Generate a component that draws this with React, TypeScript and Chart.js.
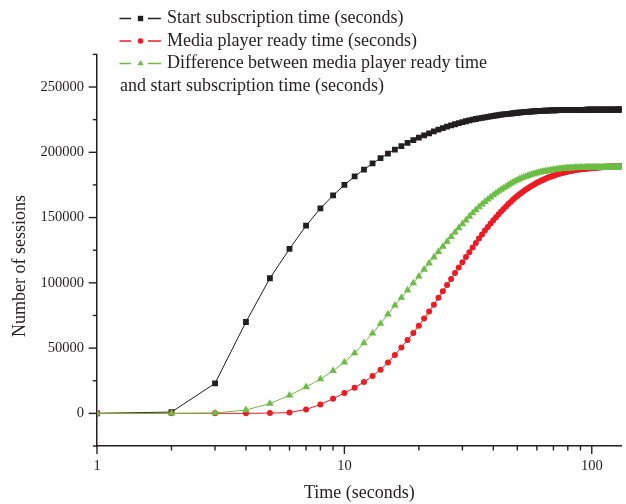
import React, { useEffect, useRef } from 'react';
import { Chart, registerables } from 'chart.js';

Chart.register(...registerables);

// ---- data ----
const seconds = [
  1, 2, 3, 4, 5, 6, 7, 8, 9, 10,
  11, 12, 13, 14, 15, 16, 17, 18, 19, 20,
  21, 22, 23, 24, 25, 26, 27, 28, 29, 30,
  31, 32, 33, 34, 35, 36, 37, 38, 39, 40,
  41, 42, 43, 44, 45, 46, 47, 48, 49, 50,
  51, 52, 53, 54, 55, 56, 57, 58, 59, 60,
  61, 62, 63, 64, 65, 66, 67, 68, 69, 70,
  71, 72, 73, 74, 75, 76, 77, 78, 79, 80,
  81, 82, 83, 84, 85, 86, 87, 88, 89, 90,
  91, 92, 93, 94, 95, 96, 97, 98, 99, 100,
  101, 102, 103, 104, 105, 106, 107, 108, 109, 110,
  111, 112, 113, 114, 115, 116, 117, 118, 119, 120,
  121, 122, 123, 124, 125, 126, 127, 128, 129, 130,
  131, 132,
];

const startSubscription = [
  0, 1000, 23000, 70000, 103500, 126000, 143800, 157000, 167000, 175000,
  181500, 186800, 191500, 195500, 199000, 202000, 204800, 207200, 209400, 211300,
  213000, 214500, 216000, 217300, 218500, 219600, 220600, 221500, 222400, 223100,
  223800, 224400, 225000, 225500, 226000, 226400, 226800, 227200, 227500, 227900,
  228200, 228500, 228800, 229000, 229300, 229500, 229700, 229900, 230100, 230300,
  230450, 230600, 230750, 230900, 231000, 231150, 231250, 231350, 231450, 231550,
  231650, 231700, 231800, 231850, 231900, 231950, 232000, 232050, 232100, 232150,
  232180, 232210, 232240, 232270, 232300, 232320, 232340, 232360, 232380, 232400,
  232420, 232440, 232450, 232460, 232480, 232490, 232500, 232510, 232520, 232530,
  232540, 232550, 232560, 232570, 232580, 232590, 232600, 232600, 232610, 232620,
  232620, 232630, 232640, 232640, 232650, 232660, 232660, 232670, 232680, 232680,
  232690, 232690, 232700, 232700, 232710, 232710, 232720, 232720, 232730, 232730,
  232740, 232740, 232750, 232750, 232750, 232760, 232760, 232770, 232770, 232780,
  232780, 232790,
];

const mediaPlayerReady = [
  0, 0, 0, 0, 200, 600, 3000, 6800, 11200, 15600,
  19700, 24000, 28600, 33500, 39000, 44800, 50500, 56200, 61600, 67200,
  72600, 78000, 83300, 88500, 93600, 98400, 103000, 107500, 111800, 115800,
  119700, 123500, 127100, 130600, 133900, 137000, 140000, 142800, 145500, 148000,
  150300, 152500, 154600, 156500, 158500, 160300, 162000, 163600, 165100, 166500,
  167800, 169000, 170200, 171300, 172300, 173300, 174200, 175000, 175800, 176600,
  177300, 178000, 178600, 179200, 179800, 180300, 180800, 181300, 181700, 182100,
  182500, 182900, 183300, 183600, 183900, 184200, 184500, 184750, 185000, 185250,
  185500, 185700, 185900, 186100, 186300, 186450, 186600, 186750, 186900, 187000,
  187100, 187200, 187300, 187380, 187460, 187540, 187620, 187700, 187780, 187860,
  187940, 188020, 188100, 188180, 188260, 188340, 188420, 188490, 188560, 188620,
  188680, 188740, 188790, 188840, 188880, 188920, 188960, 189000, 189030, 189060,
  189090, 189120, 189140, 189160, 189180, 189200, 189220, 189240, 189250, 189260,
  189270, 189280,
];

const difference = [
  0, 0, 300, 2600, 7500, 13800, 20200, 26300, 32600, 39200,
  46200, 53900, 61300, 68800, 75900, 82700, 88700, 94300, 99800, 105000,
  110200, 115000, 119600, 123800, 127800, 131600, 135200, 138700, 142000, 145100,
  148000, 150800, 153400, 155800, 158100, 160200, 162100, 163900, 165600, 167200,
  168700, 170100, 171400, 172600, 173700, 174900, 176000, 177000, 177900, 178700,
  179500, 180200, 180800, 181400, 181900, 182400, 182900, 183300, 183700, 184100,
  184400, 184700, 185000, 185300, 185500, 185700, 185900, 186100, 186300, 186500,
  186700, 186850, 187000, 187150, 187300, 187400, 187500, 187600, 187700, 187800,
  187850, 187900, 187950, 188000, 188050, 188100, 188150, 188200, 188230, 188260,
  188290, 188310, 188330, 188350, 188370, 188390, 188400, 188410, 188420, 188430,
  188440, 188450, 188460, 188470, 188480, 188490, 188500, 188500, 188510, 188510,
  188520, 188520, 188530, 188530, 188540, 188540, 188550, 188550, 188560, 188560,
  188570, 188570, 188580, 188580, 188590, 188590, 188600, 188600, 188600, 188610,
  188610, 188620,
];

const seriesNames = [
  'Start subscription time (seconds)',
  'Media player ready time (seconds)',
  'Difference between media player ready time',
];
const legendContinuation = 'and start subscription time (seconds)';

const xTickValues = [1, 2, 3, 4, 5, 6, 7, 8, 9, 10, 20, 30, 40, 50, 60, 70, 80, 90, 100];
const xTickLabels = [1, 10, 100];
const yTickValues = [-25000, 0, 25000, 50000, 75000, 100000, 125000, 150000, 175000, 200000, 225000, 250000, 275000];
const yTickLabels = [0, 50000, 100000, 150000, 200000, 250000];

const xTitle = 'Time (seconds)';
const yTitle = 'Number of sessions';

// ---- styles ----
const FONT = '"Liberation Serif", "Times New Roman", serif';
const INK = '#231f20';
const BLACK = '#231f20';
const RED = '#ed1c24';
const GREEN = '#6cbd45';

function drawMarker(ctx: CanvasRenderingContext2D, style: string, x: number, y: number, color: string) {
  ctx.fillStyle = color;
  ctx.beginPath();
  if (style === 'rect') {
    ctx.rect(x - 2.7, y - 2.7, 5.4, 5.4);
  } else if (style === 'circle') {
    ctx.arc(x, y, 2.8, 0, Math.PI * 2);
  } else {
    const r = 3.6;
    ctx.moveTo(x, y - r);
    ctx.lineTo(x + r * 0.866, y + r * 0.5);
    ctx.lineTo(x - r * 0.866, y + r * 0.5);
    ctx.closePath();
  }
  ctx.fill();
}

const decorPlugin = {
  id: 'decor',
  afterDraw(chart: any) {
    const ctx: CanvasRenderingContext2D = chart.ctx;
    const xs = chart.scales.x;
    const ys = chart.scales.y;
    const area = chart.chartArea;
    ctx.save();
    ctx.strokeStyle = INK;
    ctx.lineWidth = 1.4;
    // x tick marks
    xTickValues.forEach((v) => {
      const px = xs.getPixelForValue(v);
      const len = xTickLabels.includes(v) ? 8 : 4.5;
      ctx.beginPath();
      ctx.moveTo(px, area.bottom);
      ctx.lineTo(px, area.bottom + len);
      ctx.stroke();
    });
    // y tick marks
    yTickValues.forEach((v) => {
      const py = ys.getPixelForValue(v);
      const len = yTickLabels.includes(v) ? 8.3 : 4.2;
      ctx.beginPath();
      ctx.moveTo(area.left - len, py);
      ctx.lineTo(area.left, py);
      ctx.stroke();
    });

    // axis titles
    ctx.fillStyle = INK;
    ctx.font = `18px ${FONT}`;
    ctx.textAlign = 'center';
    ctx.textBaseline = 'middle';
    ctx.fillText(xTitle, (area.left + area.right) / 2, 493);
    ctx.save();
    ctx.translate(20, 266);
    ctx.rotate(-Math.PI / 2);
    ctx.fillText(yTitle, 0, 0);
    ctx.restore();

    // legend
    const rows = [
      { color: BLACK, style: 'rect', text: seriesNames[0] },
      { color: RED, style: 'circle', text: seriesNames[1] },
      { color: GREEN, style: 'triangle', text: seriesNames[2] },
    ];
    ctx.textAlign = 'left';
    rows.forEach((r, i) => {
      const y = 18.5 + i * 22.5;
      ctx.strokeStyle = r.color;
      ctx.lineWidth = 1.3;
      ctx.beginPath();
      ctx.moveTo(119.5, y);
      ctx.lineTo(131, y);
      ctx.moveTo(148, y);
      ctx.lineTo(161, y);
      ctx.stroke();
      drawMarker(ctx, r.style, 140.5, y, r.color);
      ctx.fillStyle = INK;
      ctx.fillText(r.text, 167, y);
    });
    ctx.fillText(legendContinuation, 120, 18.5 + 3 * 22.5);
    ctx.restore();
  },
};

export default function App() {
  const canvasRef = useRef<HTMLCanvasElement | null>(null);

  useEffect(() => {
    document.body.style.margin = '0';
    const canvas = canvasRef.current;
    if (!canvas) return;
    const tickFont = { family: FONT, size: 14.5 };
    const chart = new Chart(canvas, {
      type: 'line',
      data: {
        labels: seconds,
        datasets: [
          {
            label: seriesNames[0],
            data: startSubscription,
            borderColor: BLACK,
            backgroundColor: BLACK,
            borderWidth: 1,
            pointStyle: 'rect',
            pointRadius: 4.1,
            pointBorderWidth: 0,
            pointBackgroundColor: BLACK,
            tension: 0,
            order: 3,
          },
          {
            label: seriesNames[1],
            data: mediaPlayerReady,
            borderColor: RED,
            backgroundColor: RED,
            borderWidth: 1,
            pointStyle: 'circle',
            pointRadius: 3.0,
            pointBorderWidth: 0,
            pointBackgroundColor: RED,
            tension: 0,
            order: 2,
          },
          {
            label: seriesNames[2],
            data: difference,
            borderColor: GREEN,
            backgroundColor: GREEN,
            borderWidth: 1,
            pointStyle: 'triangle',
            pointRadius: 4.4,
            pointBorderWidth: 0,
            pointBackgroundColor: GREEN,
            tension: 0,
            order: 1,
          },
        ],
      },
      options: {
        responsive: false,
        animation: false,
        devicePixelRatio: 1,
        layout: { padding: { top: 54.4, right: 4, left: 0, bottom: 0 } },
        plugins: {
          legend: { display: false },
          tooltip: { enabled: false },
          title: { display: false },
        },
        scales: {
          x: {
            type: 'logarithmic',
            min: 1,
            max: 132,
            afterBuildTicks: (scale: any) => {
              scale.ticks = xTickValues.map((v) => ({ value: v }));
            },
            afterFit: (scale: any) => {
              scale.height = 58;
            },
            grid: { display: false, drawTicks: false },
            border: { display: true, color: INK, width: 1.5 },
            ticks: {
              autoSkip: false,
              maxRotation: 0,
              minRotation: 0,
              padding: 11,
              color: INK,
              font: tickFont,
              callback: (v: any) => (xTickLabels.includes(Number(v)) ? String(v) : ''),
            },
          },
          y: {
            type: 'linear',
            min: -25000,
            max: 275000,
            afterBuildTicks: (scale: any) => {
              scale.ticks = yTickValues.map((v) => ({ value: v }));
            },
            afterFit: (scale: any) => {
              scale.width = 97;
            },
            grid: { display: false, drawTicks: false },
            border: { display: true, color: INK, width: 1.5 },
            ticks: {
              autoSkip: false,
              padding: 13,
              color: INK,
              font: tickFont,
              callback: (v: any) => (yTickLabels.includes(Number(v)) ? String(v) : ''),
            },
          },
        },
      },
      plugins: [decorPlugin],
    } as any);
    return () => chart.destroy();
  }, []);

  return (
    <div style={{ width: 626, height: 504, background: '#fff' }}>
      <canvas ref={canvasRef} width={626} height={504} />
    </div>
  );
}
